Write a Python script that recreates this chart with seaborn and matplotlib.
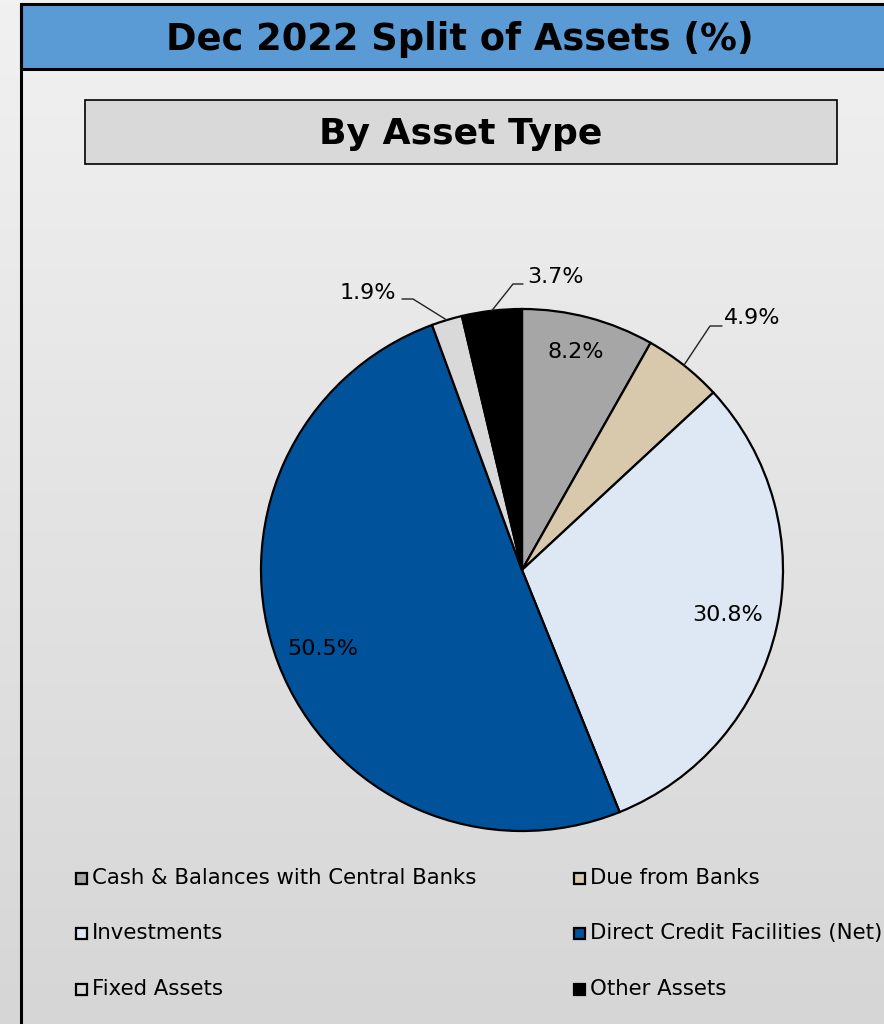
import numpy as np
import matplotlib
matplotlib.use("Agg")
import matplotlib.pyplot as plt
from matplotlib.patches import Rectangle
import seaborn as sns

sns.set_theme(style="white")
plt.rcParams["font.family"] = ["DejaVu Sans"]

# ---- data ----
categories = [
    "Cash & Balances with Central Banks",
    "Due from Banks",
    "Investments",
    "Direct Credit Facilities (Net)",
    "Fixed Assets",
    "Other Assets",
]
shares = [8.2, 4.9, 30.8, 50.5, 1.9, 3.7]
slice_colors = ["#a6a6a6", "#d8c9ad", "#dde8f4", "#00539b", "#d9d9d9", "#000000"]
title_text = "Dec 2022 Split of Assets (%)"
subtitle_text = "By Asset Type"

W, H = 884, 1024
fig = plt.figure(figsize=(W / 100, H / 100), dpi=100)

# ---- background canvas in pixel coordinates ----
bg = fig.add_axes([0, 0, 1, 1])
bg.set_xlim(0, W)
bg.set_ylim(H, 0)
bg.axis("off")
grad = np.linspace(0, 1, 256).reshape(-1, 1)
cmap = matplotlib.colors.LinearSegmentedColormap.from_list("bggrad", ["#f1f1f1", "#d6d6d6"])
bg.imshow(grad, extent=[0, W, H, 0], aspect="auto", cmap=cmap, zorder=0)

# header bar
bg.add_patch(Rectangle((21, 4), W, 65, facecolor="#5b9bd5", edgecolor="black", lw=2.2, zorder=2))
# panel left edge
bg.plot([21, 21], [4, H + 5], color="black", lw=2.2, zorder=3)
bg.text(460, 39, title_text, ha="center", va="center", fontsize=26.5,
        fontweight="bold", color="black", zorder=4)

# subtitle box
bg.add_patch(Rectangle((85, 100), 752, 64, facecolor="#d9d9d9", edgecolor="black", lw=1.2, zorder=2))
bg.text(461, 134, subtitle_text, ha="center", va="center", fontsize=26,
        fontweight="bold", color="black", zorder=4)

# ---- pie ----
cx, cy, R = 522, 570, 261
half = 300
pie_ax = fig.add_axes([(cx - half) / W, (H - cy - half) / H, 2 * half / W, 2 * half / H])
pie_ax.patch.set_alpha(0)

wedges, _ = pie_ax.pie(
    shares, colors=slice_colors, startangle=90, counterclock=False, radius=R,
    wedgeprops=dict(edgecolor="black", linewidth=1.6),
)
pie_ax.set_xlim(-half, half)
pie_ax.set_ylim(-half, half)
pie_ax.set_aspect("equal")
pie_ax.axis("off")

label_font = 16
# inside labels (pixel offsets from centre, y up)
inside_pos = {0: (54, 218), 2: (206, -45), 3: (-199, -79)}
for i, (dx, dy) in inside_pos.items():
    pie_ax.text(dx, dy, f"{shares[i]}%", ha="center", va="center",
                fontsize=label_font, color="black")

# outside labels with leader lines: elbow point, line end, text anchor, alignment
outside = {
    1: ((188, 244), (200, 244), (202, 252), "left"),
    5: ((-9, 286), (1, 286), (5, 293), "left"),
    4: ((-109, 271), (-120, 271), (-126, 277), "right"),
}
for i, (elbow, end, txt, ha) in outside.items():
    w = wedges[i]
    mid = np.deg2rad((w.theta1 + w.theta2) / 2)
    sx, sy = R * np.cos(mid), R * np.sin(mid)
    pie_ax.plot([sx, elbow[0], end[0]], [sy, elbow[1], end[1]], color="#222222", lw=1.0)
    pie_ax.text(txt[0], txt[1], f"{shares[i]}%", ha=ha, va="center",
                fontsize=label_font, color="black")

# ---- legend ----
col_x = [81, 579]
row_y = [878, 933, 989]
for k, name in enumerate(categories):
    x = col_x[k % 2]
    y = row_y[k // 2]
    bg.add_patch(Rectangle((x - 5.5, y - 5.5), 11, 11, facecolor=slice_colors[k],
                           edgecolor="black", lw=1.6, zorder=5))
    bg.text(x + 11, y, name, ha="left", va="center", fontsize=15.3, color="black", zorder=5)

fig.savefig("out.png", dpi=100)
